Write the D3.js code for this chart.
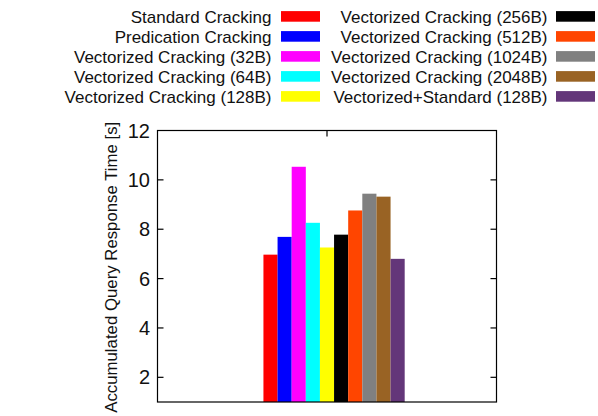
<!DOCTYPE html>
<html>
<head>
<meta charset="utf-8">
<script src="https://cdn.jsdelivr.net/npm/d3@7"></script>
<style>
  html, body { margin: 0; padding: 0; background: #fff; }
  svg { display: block; font-family: "Liberation Sans", Arial, Helvetica, sans-serif; }
</style>
</head>
<body>
<svg id="chart" width="598" height="416"></svg>
<script>
// Accumulated query response time per cracking variant
const series = [
  "Standard Cracking",
  "Predication Cracking",
  "Vectorized Cracking (32B)",
  "Vectorized Cracking (64B)",
  "Vectorized Cracking (128B)",
  "Vectorized Cracking (256B)",
  "Vectorized Cracking (512B)",
  "Vectorized Cracking (1024B)",
  "Vectorized Cracking (2048B)",
  "Vectorized+Standard (128B)"
];
const values = [6.97, 7.69, 10.53, 8.26, 7.26, 7.78, 8.76, 9.44, 9.32, 6.80];
const colors = [
  "#ff0000", "#0000ff", "#ff00ff", "#00ffff", "#ffff00",
  "#000000", "#ff4500", "#808080", "#996324", "#633679"
];
const yTicks = [2, 4, 6, 8, 10, 12];
const yLabel = "Accumulated Query Response Time [s]";

const svg = d3.select("#chart");
const frame = { left: 157.5, right: 496.5, top: 130.5, bottom: 402 };

// Histogram layout: one cluster centred at x = 0, gap of 2 bar widths
const gap = 2;
const barW = 1 / (series.length + gap);
const firstLeft = -4.5 * barW;

const x = d3.scaleLinear().domain([-1, 1]).range([frame.left, frame.right]);
const y = d3.scaleLinear().domain([1, 12]).range([frame.bottom, frame.top]);

const g = svg.append("g");

// Category tick (bottom and mirrored top), drawn beneath the bars
const tickLen = 6;
g.append("line")
  .attr("x1", x(0)).attr("x2", x(0))
  .attr("y1", frame.bottom).attr("y2", frame.bottom - tickLen)
  .attr("stroke", "#000").attr("stroke-width", 1.2);

// Bars
g.selectAll("rect.bar")
  .data(values)
  .join("rect")
  .attr("class", "bar")
  .attr("x", (d, i) => x(firstLeft + i * barW))
  .attr("width", (d, i) => x(firstLeft + (i + 1) * barW) - x(firstLeft + i * barW))
  .attr("y", d => y(d))
  .attr("height", d => y(1) - y(d))
  .attr("fill", (d, i) => colors[i]);

// Y ticks on left and right, inward
yTicks.forEach(t => {
  if (t < 12) {
    g.append("line")
      .attr("x1", frame.left).attr("x2", frame.left + tickLen)
      .attr("y1", y(t)).attr("y2", y(t))
      .attr("stroke", "#000").attr("stroke-width", 1.2);
    g.append("line")
      .attr("x1", frame.right).attr("x2", frame.right - tickLen)
      .attr("y1", y(t)).attr("y2", y(t))
      .attr("stroke", "#000").attr("stroke-width", 1.2);
  }
  g.append("text")
    .attr("x", frame.left - 7.5)
    .attr("y", y(t))
    .attr("dy", "0.35em")
    .attr("text-anchor", "end")
    .attr("font-size", 20)
    .attr("fill", "#111")
    .text(t);
});

// Top mirrored category tick
g.append("line")
  .attr("x1", x(0)).attr("x2", x(0))
  .attr("y1", frame.top).attr("y2", frame.top + tickLen)
  .attr("stroke", "#000").attr("stroke-width", 1.2);

// Plot border
g.append("rect")
  .attr("x", frame.left).attr("y", frame.top)
  .attr("width", frame.right - frame.left)
  .attr("height", frame.bottom - frame.top)
  .attr("fill", "none")
  .attr("stroke", "#000")
  .attr("stroke-width", 1.2);

// Y axis title
g.append("text")
  .attr("transform", `translate(116.5, ${(frame.top + frame.bottom) / 2 + 1}) rotate(-90)`)
  .attr("text-anchor", "middle")
  .attr("font-size", 16.8)
  .attr("fill", "#111")
  .text(yLabel);

// Legend: two columns of five entries, label right-aligned before swatch
const legendCols = [
  { textRight: 271.5, swatchX: 281, swatchW: 39 },
  { textRight: 547.5, swatchX: 556, swatchW: 39 }
];
const legend = svg.append("g");
series.forEach((name, i) => {
  const col = legendCols[Math.floor(i / 5)];
  const row = i % 5;
  const cy = 16.4 + row * 20;
  legend.append("text")
    .attr("x", col.textRight)
    .attr("y", cy + 6.5)
    .attr("text-anchor", "end")
    .attr("font-size", 17)
    .attr("fill", "#111")
    .text(name);
  legend.append("rect")
    .attr("x", col.swatchX)
    .attr("y", cy - 5.3)
    .attr("width", col.swatchW)
    .attr("height", 10.6)
    .attr("fill", colors[i]);
});
</script>
</body>
</html>
